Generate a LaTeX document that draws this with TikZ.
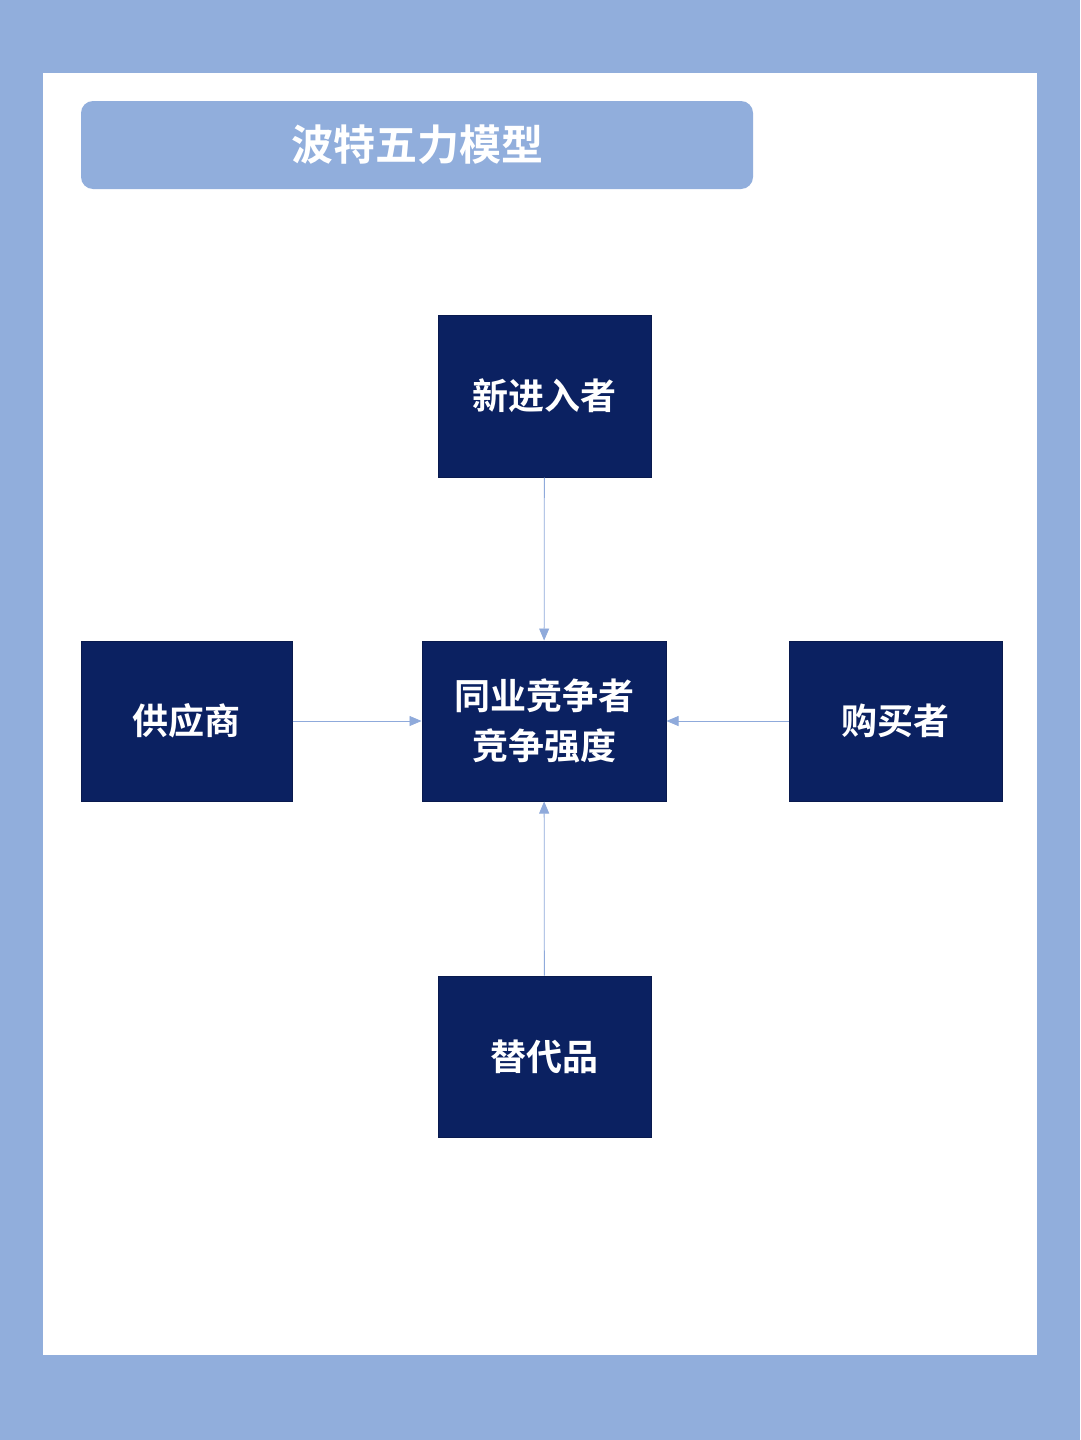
\documentclass[tikz,border=0pt]{standalone}
\usepackage{fontspec}
\newfontfamily\cjk{Noto Sans CJK SC}[BoldFont=* Bold]
\usetikzlibrary{arrows.meta}
\definecolor{frameblue}{HTML}{91AEDC}
\definecolor{navy}{HTML}{0B2161}
\definecolor{arrowblue}{HTML}{8FAADB}
\tikzset{
 forcebox/.style={fill=navy,draw=navy!80!black,line width=1pt,text=white,font=\cjk\bfseries\fontsize{36}{50}\selectfont,align=center},
 conn/.style={draw=arrowblue,line width=0.8pt,-{Triangle[length=12pt,width=10pt]}}
}
\begin{document}
\begin{tikzpicture}[x=1pt,y=-1pt]
\fill[frameblue] (0,0) rectangle (1080,1440);
\useasboundingbox (0,0) rectangle (1080,1440);
\fill[white] (43,73) rectangle (1037,1355);
\node[fill=frameblue,rounded corners=12pt,minimum width=672pt,minimum height=88pt,text=white,font=\cjk\bfseries\fontsize{42}{50}\selectfont] (title) at (417,145) {波特五力模型};
\node[forcebox,minimum width=213pt,minimum height=162pt] (new) at (544.5,396) {新进入者};
\node[forcebox,minimum width=244pt,minimum height=160pt] (mid) at (544,721) {同业竞争者\\竞争强度};
\node[forcebox,minimum width=211pt,minimum height=160pt] (sup) at (186.5,721) {供应商};
\node[forcebox,minimum width=213pt,minimum height=160pt] (buy) at (895.5,721) {购买者};
\node[forcebox,minimum width=213pt,minimum height=161pt] (sub) at (544.5,1056.5) {替代品};
\draw[conn] (new) -- (mid);
\draw[conn] (sup) -- (mid);
\draw[conn] (buy) -- (mid);
\draw[conn] (sub) -- (mid);
\end{tikzpicture}
\end{document}
